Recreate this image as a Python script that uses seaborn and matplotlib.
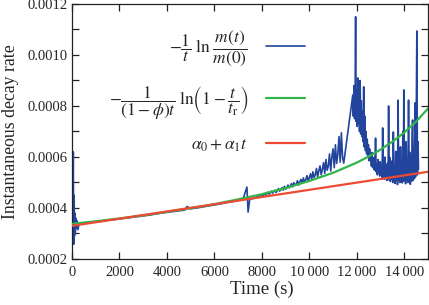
import numpy as np
import pandas as pd
import matplotlib
matplotlib.use("Agg")
import matplotlib.pyplot as plt
import matplotlib.ticker as mticker
import seaborn as sns

# ---- data ----
# measured instantaneous decay rate, time in s, rate in units of 1e-6 1/s
blue_t = [0, 30, 55, 70, 90, 105, 120, 140, 160, 180, 210, 250, 300,
          500, 750, 1000, 1250, 1500, 1750, 2000, 2250, 2500, 2750, 3000, 3250, 3500, 3750,
          4000, 4250, 4500, 4750, 4850, 5000, 5250, 5500, 5750, 6000, 6250, 6500, 6750,
          7000, 7200, 7370, 7420, 7490, 7520, 7750,
          8000, 8050, 8100, 8150, 8200, 8250, 8300, 8350, 8400, 8450, 8500, 8550, 8600,
          8650, 8700, 8750, 8800, 8850, 8900, 8950, 9000, 9050, 9100, 9150, 9200, 9250,
          9300, 9350, 9400, 9450, 9500, 9550, 9600, 9650, 9700, 9750, 9800, 9850, 9900,
          9950, 10000, 10050, 10100, 10150, 10200, 10250, 10300, 10350, 10400, 10450,
          10500, 10550, 10600, 10650, 10700, 10750, 10800, 10850, 10900, 10950, 11000,
          11050, 11100, 11150, 11200, 11250, 11300, 11350, 11400, 11450,
          11830, 11855, 11880, 11905, 11930, 11950, 11965, 11990, 12015, 12040, 12065,
          12090, 12115, 12140, 12165, 12190, 12215, 12240, 12265, 12290, 12315, 12340,
          12365, 12390, 12415, 12440, 12465, 12490, 12515, 12540, 12565, 12590, 12615,
          12640, 12665, 12690, 12715, 12740, 12765, 12790, 12815, 12840, 12865, 12890,
          12915, 12940, 12965, 12990, 13015, 13040, 13065, 13090, 13115, 13140, 13165,
          13190, 13215, 13240, 13265, 13290, 13315, 13340, 13365, 13390, 13415, 13440,
          13465, 13490, 13515, 13540, 13565, 13590, 13615, 13640, 13665, 13690, 13715,
          13740, 13765, 13790, 13815, 13840, 13865, 13890, 13915, 13940, 13965, 13980,
          14000, 14030, 14055, 14080, 14105, 14130, 14155, 14180, 14205, 14230, 14255,
          14280, 14305, 14330, 14350, 14375, 14400, 14425, 14450, 14475, 14500, 14530,
          14555, 14580, 14600]
blue_rate_e6 = [340, 345, 620, 258, 450, 290, 380, 305, 360, 320, 350, 315, 338,
                340, 343, 346, 348, 352, 354, 357, 360, 363, 366, 369, 372, 376, 380,
                383, 386, 389, 392, 406, 397, 400, 404, 408, 412, 416, 421, 425,
                430, 433, 482, 384, 436, 435, 441,
                452, 448, 457, 451, 455, 462, 454, 459, 466, 458, 463, 470, 461,
                468, 476, 466, 472, 480, 470, 485, 474, 478, 490, 479, 486, 496,
                483, 499, 489, 494, 507, 490, 503, 512, 497, 518, 502, 510, 527,
                505, 520, 534, 511, 542, 520, 530, 555, 522, 546, 565,
                530, 552, 578, 536, 590, 548, 565, 612, 545, 600, 632,
                558, 648, 575, 610, 680, 580, 695, 598, 576,
                843, 760, 880, 750, 830, 1150, 740, 860, 720, 910, 730,
                890, 700, 900, 690, 820, 680, 780, 660, 875, 640, 760,
                625, 700, 612, 670, 598, 648, 585, 632, 590, 610, 565,
                618, 560, 590, 552, 600, 548, 674, 542, 572, 530, 590,
                536, 565, 525, 582, 532, 552, 515, 714, 520, 570, 512,
                600, 526, 548, 508, 575, 510, 800, 520, 598, 504, 552,
                515, 585, 500, 698, 512, 545, 496, 622, 510, 560, 492,
                823, 508, 590, 500, 640, 515, 548, 498, 700, 505, 863,
                512, 575, 495, 660, 508, 585, 500, 823, 512, 618, 493,
                598, 505, 680, 745, 508, 640, 515, 812, 522, 700, 1094,
                530, 660, 552]

# creep-rupture model curve
green_t = [0, 1000, 2000, 3000, 4000, 5000, 6000, 7000, 8000, 9000, 10000,
           11000, 12000, 12500, 13000, 13500, 14000, 14500, 15000]
green_rate_e6 = [338, 348, 359, 371, 385, 399, 415, 434, 454, 478, 506,
                 538, 578, 602, 629, 660, 696, 739, 790]

# linear fit alpha0 + alpha1 t
red_t = [0, 15000]
red_rate_e6 = [330, 542]

labels = [r"$-\dfrac{1}{t}\;\ln\,\dfrac{m(t)}{m(0)}$",
          r"$-\dfrac{1}{(1-\phi)t}\;\ln\!\left(1-\dfrac{t}{t_\mathrm{r}}\right)$",
          r"$\alpha_0+\alpha_1 t$"]
colors = ["#22449c", "#2fb54a", "#ec4a32"]

x_ticks = [0, 2000, 4000, 6000, 8000, 10000, 12000, 14000]
y_ticks = [0.0002, 0.0004, 0.0006, 0.0008, 0.0010, 0.0012]

# ---- style ----
sns.set_style("ticks")
plt.rcParams["font.family"] = ["Liberation Serif", "DejaVu Serif"]
plt.rcParams["mathtext.fontset"] = "stix"

fig = plt.figure(figsize=(4.29, 3.05), dpi=100)
ax = fig.add_axes([72 / 429, 1 - 259 / 305, 356 / 429, 255 / 305])

df_b = pd.DataFrame({"t": blue_t, "r": np.array(blue_rate_e6) * 1e-6})
df_g = pd.DataFrame({"t": green_t, "r": np.array(green_rate_e6) * 1e-6})
df_r = pd.DataFrame({"t": red_t, "r": np.array(red_rate_e6) * 1e-6})

sns.lineplot(data=df_b, x="t", y="r", ax=ax, color=colors[0], lw=1.2,
             estimator=None, sort=False, label=labels[0], zorder=2)
sns.lineplot(data=df_g, x="t", y="r", ax=ax, color=colors[1], lw=1.6,
             estimator=None, sort=False, label=labels[1], zorder=3)
sns.lineplot(data=df_r, x="t", y="r", ax=ax, color=colors[2], lw=1.6,
             estimator=None, sort=False, label=labels[2], zorder=3)

ax.set_xlim(0, 15000)
ax.set_ylim(0.0002, 0.0012)
ax.set_xticks(x_ticks)
ax.set_yticks(y_ticks)
ax.yaxis.set_minor_locator(mticker.MultipleLocator(0.0001))


def xfmt(v, pos):
    v = int(round(v))
    if v >= 10000:
        return f"{v // 1000}\u2009{v % 1000:03d}"
    return f"{v}"


ax.xaxis.set_major_formatter(mticker.FuncFormatter(xfmt))
ax.yaxis.set_major_formatter(mticker.FuncFormatter(lambda v, p: f"{v:.4f}"))
ax.tick_params(which="both", direction="in", top=True, right=True,
               length=5, width=0.9, labelsize=10.5, color="#222222")
ax.tick_params(axis="x", pad=5)
for s in ax.spines.values():
    s.set_linewidth(0.9)
    s.set_color("#222222")

ax.set_xlabel("Time (s)", fontsize=13.5, labelpad=3)
ax.xaxis.set_label_coords(0.534, -0.085)
ax.xaxis.label.set_va("top")
ax.set_ylabel("Instantaneous decay rate", fontsize=12.8, labelpad=6)

leg = ax.legend(loc="upper right", bbox_to_anchor=(0.69, 0.95), frameon=False,
                markerfirst=False, fontsize=12.5, handlelength=2.3,
                handletextpad=1.0, labelspacing=0.9, borderpad=0.2)

fig.savefig("out.png", dpi=100)
